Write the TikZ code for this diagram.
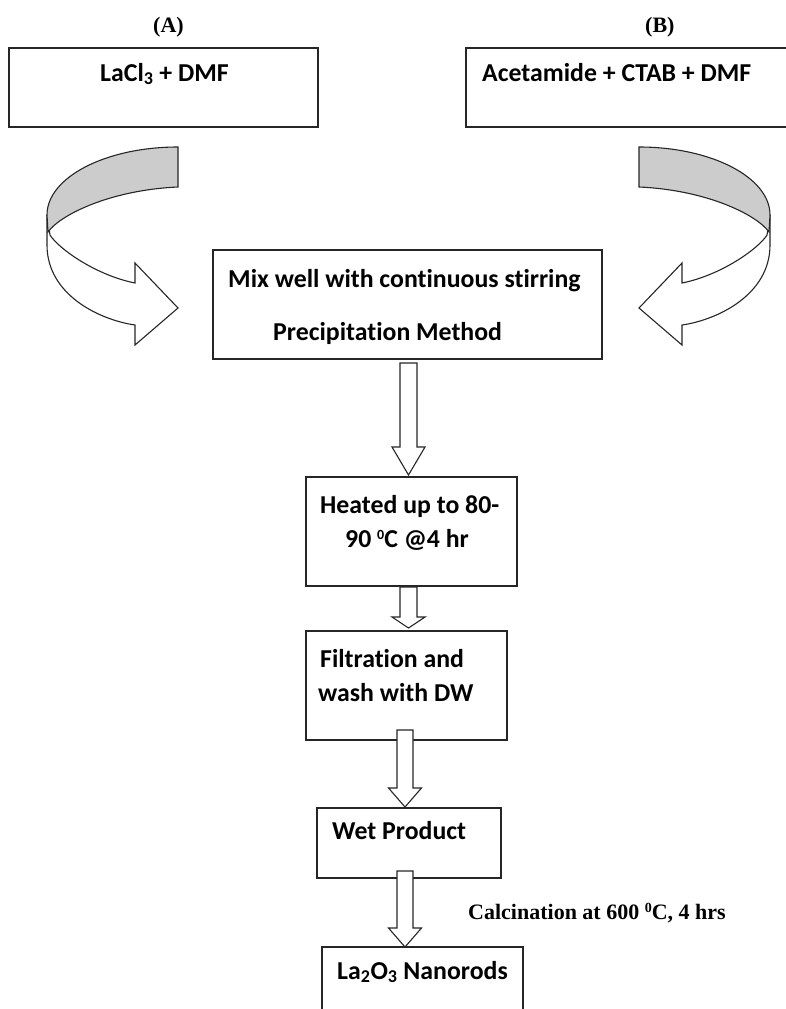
\documentclass[tikz,border=0pt]{standalone}
\usepackage{fontspec}
\newfontfamily\carl{Carlito}[Ligatures=NoCommon]
\newfontfamily\tnr{Liberation Serif}
\usetikzlibrary{calc}
\tikzset{
  box/.style={draw=black!85, line width=1.2pt, rectangle, inner sep=0pt, outer sep=0pt, fill=none},
  boxtxt/.style={anchor=base west, inner sep=0pt, font=\carl\bfseries\fontsize{25.8}{30}\selectfont},
  lbl/.style={anchor=base west, inner sep=0pt, font=\tnr\bfseries\fontsize{22}{26}\selectfont},
  blk/.style={draw=black!85, line width=1.1pt, fill=white, line join=miter},
  band/.style={draw=black!85, line width=1.1pt, fill=black!20},
}
\newcommand{\mysup}[1]{\raisebox{0.3em}{\fontsize{14}{15}\selectfont #1}}
% block arrow from coordinate #1 to tip coordinate #2; #3 head length, #4 half shaft, #5 half head
\newcommand{\myblockarrow}[5]{%
  \draw[blk] let \p1=(#1), \p2=(#2) in
    (\x1-#4pt,\y1) -- (\x1-#4pt,\y2+#3pt) -- (\x1-#5pt,\y2+#3pt) -- (\x2,\y2)
    -- (\x1+#5pt,\y2+#3pt) -- (\x1+#4pt,\y2+#3pt) -- (\x1+#4pt,\y1) -- cycle;}
\newcommand{\mycurvearrow}{%
  \draw[blk] (47,215) -- (47,245) .. controls (47,295) and (100,320) .. (135,325)
     -- (135,345) -- (178,308) -- (135,263) -- (135,283)
     .. controls (95,275) and (58,248) .. (50,235) -- cycle;
  \draw[band] (178,147) .. controls (105.6,147) and (47,177.4) .. (47,215)
     -- (48,232) .. controls (60,215) and (110,190) .. (178,187) -- cycle;}
\begin{document}
\begin{tikzpicture}[x=1pt,y=-1pt]
\useasboundingbox[fill=white] (0,0) rectangle (785,1009);
% boxes
\node[box, minimum width=309, minimum height=79] (boxA) at (163.5,87.5) {};
\node[box, minimum width=324, minimum height=79] (boxB) at (628,87.5) {};
\node[box, minimum width=389, minimum height=109] (mix) at (407.5,304.5) {};
\node[box, minimum width=211, minimum height=109] (heat) at (411.5,531.5) {};
\node[box, minimum width=201, minimum height=109] (filt) at (406.5,685.5) {};
\node[box, minimum width=184, minimum height=70] (wet) at (409,843) {};
\node[box, minimum width=201, minimum height=78] (nano) at (422.5,986) {};
% texts
\node[lbl] (labA) at (153,32) {(A)};
\node[lbl] (labB) at (645,32) {(B)};
\node[boxtxt] (tA) at (100,81) {LaCl\textsubscript{3} + DMF};
\node[boxtxt] (tB) at (482,81) {Acetamide + CTAB + DMF};
\node[boxtxt] (tmix1) at (228,287) {Mix well with continuous stirring};
\node[boxtxt] (tmix2) at (273,340) {Precipitation Method};
\node[boxtxt] (theat1) at (320,513) {Heated up to 80-};
\node[boxtxt] (theat2) at (345,547) {90 \mysup{0}C @4 hr};
\node[boxtxt] (tfilt1) at (320,667) {Filtration and};
\node[boxtxt] (tfilt2) at (318,701) {wash with DW};
\node[boxtxt] (twet) at (332,839) {Wet Product};
\node[boxtxt] (tnano) at (337,979) {La\textsubscript{2}O\textsubscript{3} Nanorods};
\node[lbl] (calc) at (468,919) {Calcination at 600 \mysup{0}C, 4 hrs};
% curved arrows
\mycurvearrow
\begin{scope}[xshift=817pt, xscale=-1]
\mycurvearrow
\end{scope}
% straight block arrows
\coordinate (a1s) at (408.5,363); \coordinate (a1e) at (408.5,475);
\coordinate (a2s) at (408.5,587); \coordinate (a2e) at (408.5,628);
\coordinate (a3s) at (405,730);   \coordinate (a3e) at (405,807);
\coordinate (a4s) at (405,871);   \coordinate (a4e) at (405,947);
\myblockarrow{a1s}{a1e}{28}{8.5}{16.5}
\myblockarrow{a2s}{a2e}{11}{8.5}{16.5}
\myblockarrow{a3s}{a3e}{19}{8}{16.5}
\myblockarrow{a4s}{a4e}{19}{8}{16.5}
\end{tikzpicture}
\end{document}
